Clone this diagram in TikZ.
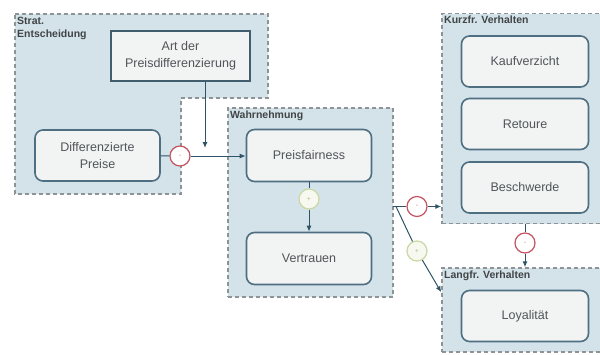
\documentclass[tikz,border=0pt]{standalone}
\usepackage{fontspec}
\setmainfont{Liberation Sans}
\usetikzlibrary{arrows.meta,positioning,calc}
\definecolor{grpfill}{HTML}{D4E3EA}
\definecolor{grpline}{HTML}{8E9396}
\definecolor{boxfill}{HTML}{F2F4F4}
\definecolor{boxline}{HTML}{4E6E82}
\definecolor{ink}{HTML}{2F5468}
\definecolor{txt}{HTML}{505558}
\definecolor{neg}{HTML}{C45462}
\definecolor{pos}{HTML}{C9D8A4}
\tikzset{grp/.style={draw=grpline,fill=grpfill,line width=1.5pt,dash pattern=on 4pt off 3pt},
  grptitle/.style={anchor=north west,inner sep=1pt,font=\fontsize{10.5}{13}\selectfont\bfseries,text=txt!80!black,align=left},
  box/.style={draw=boxline,fill=boxfill,line width=1.6pt,rounded corners=8pt,text=txt,
    font=\fontsize{12.5}{17}\selectfont,align=center,inner sep=0pt},
  negsign/.style={circle,draw=neg,fill=white,line width=1.2pt,minimum size=20pt,inner sep=0pt,text=neg!80,font=\scriptsize},
  possign/.style={circle,draw=pos,fill=pos!15,line width=1.2pt,minimum size=20pt,inner sep=0pt,text=pos!90!black,font=\scriptsize},
  conn/.style={draw=ink,line width=1pt},arr/.style={-{Latex[length=6pt,width=5pt]}}}
\begin{document}
\begin{tikzpicture}[x=1pt,y=-1pt]
\clip (0,0) rectangle (600,354);
\fill[white] (0,0) rectangle (600,354);
\draw[grp] (15,14)--(268,14)--(268,98)--(181,98)--(181,194)--(15,194)--cycle;
\node[grptitle] at (16,16) {Strat.\\Entscheidung};
\node[grp,minimum width=165pt,minimum height=189pt,inner sep=0pt] (wahr) at (310.5,202.5) {};
\node[grptitle] at (229,110) {Wahrnehmung};
\node[grp,minimum width=180pt,minimum height=210pt,inner sep=0pt] (kurz) at (532,118.5) {};
\node[grptitle] at (443,15) {Kurzfr. Verhalten};
\node[grp,minimum width=180pt,minimum height=84pt,inner sep=0pt] (lang) at (532,310) {};
\node[grptitle] at (443,270) {Langfr. Verhalten};
\node[box,rounded corners=0pt,draw=boxline!85!black,minimum width=139pt,minimum height=50pt] (art) at (180.5,56) {Art der\\Preisdifferenzierung};
\node[box,minimum width=125pt,minimum height=51pt] (diff) at (97.5,155.5) {Differenzierte\\Preise};
\node[box,minimum width=125pt,minimum height=52pt] (fair) at (309,155.5) {Preisfairness};
\node[box,minimum width=125pt,minimum height=52pt] (vert) at (309,258.5) {Vertrauen};
\foreach \n/\y/\t in {kauf/61.5/Kaufverzicht,ret/124/Retoure,besch/187.5/Beschwerde,loy/316/Loyalität}{
 \node[box,minimum width=127pt,minimum height=51pt] (\n) at (525,\y) {\t};
}
\node[negsign] (m1) at (180,156) {-};
\node[possign] (p1) at (309,199) {+};
\node[negsign] (m2) at (417,206.5) {-};
\node[possign] (p2) at (417,251) {+};
\node[negsign] (m3) at (525,243) {-};
\coordinate (join) at (205,148);
\coordinate (br) at (393,206.5);
\draw[conn] (diff) -- (m1);
\draw[conn,arr] (m1) -- (fair.west |- m1);
\draw[conn,arr] (art.south -| join) -- (join);
\draw[conn] (fair) -- (p1);
\draw[conn,arr] (p1) -- (vert);
\draw[conn] (br) -- (m2);
\draw[conn,arr] (m2) -- (m2 -| kurz.west);
\draw[conn] ($(br)+(3,0)$) -- (p2);
\draw[conn,arr] (p2) -- ($(lang.north west)+(0,25)$);
\draw[conn] (kurz.south -| m3) -- (m3);
\draw[conn,arr] (m3) -- (m3 |- lang.north);
\end{tikzpicture}
\end{document}
